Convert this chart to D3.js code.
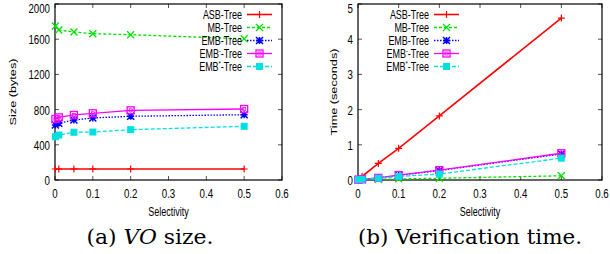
<!DOCTYPE html>
<html><head><meta charset="utf-8">
<script src="https://cdn.jsdelivr.net/npm/d3@7"></script>
<style>
body{margin:0;background:#fff;}
svg{display:block;}
.tk{font-family:"Liberation Sans",Arial,sans-serif;fill:#000;}
.cap{font-family:"DejaVu Serif","Liberation Serif",serif;font-size:20px;fill:#000;}
</style></head>
<body>
<svg id="chart" width="610" height="254"></svg>
<script>
const selectivity = [0.001, 0.01, 0.05, 0.1, 0.2, 0.5];
const seriesNames = ["ASB-Tree", "MB-Tree", "EMB-Tree", "EMB-Tree", "EMB-Tree"];
const seriesSup = ["", "", "", "-", "*"];
// (a) VO size (bytes)
const sizeASB   = [125, 125, 125, 125, 125, 125];
const sizeMB    = [1750, 1705, 1682, 1662, 1651, 1605];
const sizeEMB   = [625, 644, 682, 705, 724, 742];
const sizeEMBm  = [693, 712, 739, 758, 792, 807];
const sizeEMBs  = [492, 511, 542, 545, 572, 610];
// (b) Verification time (seconds)
const timeASB   = [0.04, 0.1, 0.47, 0.9, 1.82, 4.6];
const timeMB    = [0.01, 0.01, 0.02, 0.03, 0.05, 0.12];
const timeEMB   = [0.01, 0.02, 0.06, 0.13, 0.27, 0.74];
const timeEMBm  = [0.01, 0.02, 0.06, 0.14, 0.28, 0.76];
const timeEMBs  = [0.01, 0.02, 0.05, 0.10, 0.17, 0.62];
const xTicks = [0, 0.1, 0.2, 0.3, 0.4, 0.5, 0.6];
const sizeTicks = [0, 400, 800, 1200, 1600, 2000];
const timeTicks = [0, 1, 2, 3, 4, 5];

const colors = ["#ff0000", "#00e000", "#0000ff", "#ff00ff", "#00e0e0"];
const dashes = [null, "3,2", "1.5,1.5", null, "4,2"];
const markers = ["plus", "cross", "star", "sqopen", "sqfill"];
const SX = 0.72;

const svg = d3.select("#chart");

function txt(g, x, y, str, anchor, size, rot) {
  const tr = rot ? `translate(${x},${y}) rotate(-90) scale(1,${SX})` : `translate(${x},${y}) scale(${SX},1)`;
  return g.append("text").attr("class", "tk").attr("transform", tr)
    .attr("text-anchor", anchor).attr("font-size", size + "px").text(str);
}

function drawMarker(g, type, x, y, color) {
  const s = 3.5;
  if (type === "plus") {
    g.append("path").attr("d", `M${x-s},${y}H${x+s}M${x},${y-s}V${y+s}`).attr("stroke", color).attr("stroke-width", 1.2).attr("fill", "none");
  } else if (type === "cross") {
    g.append("path").attr("d", `M${x-s},${y-s}L${x+s},${y+s}M${x-s},${y+s}L${x+s},${y-s}`).attr("stroke", color).attr("stroke-width", 1.2).attr("fill", "none");
  } else if (type === "star") {
    g.append("path").attr("d", `M${x-s},${y}H${x+s}M${x},${y-s}V${y+s}M${x-s},${y-s}L${x+s},${y+s}M${x-s},${y+s}L${x+s},${y-s}`).attr("stroke", color).attr("stroke-width", 1.5).attr("fill", "none");
  } else if (type === "sqopen") {
    g.append("rect").attr("x", x-s).attr("y", y-s).attr("width", 2*s).attr("height", 2*s).attr("stroke", color).attr("stroke-width", 1.3).attr("fill", "none");
    g.append("rect").attr("x", x-1.5).attr("y", y-1.5).attr("width", 3).attr("height", 3).attr("stroke", color).attr("stroke-width", 0.8).attr("fill", "none");
  } else {
    g.append("rect").attr("x", x-s).attr("y", y-s).attr("width", 2*s).attr("height", 2*s).attr("fill", color);
  }
}

function panel(opt) {
  const x = d3.scaleLinear().domain([0, 0.6]).range([opt.left, opt.right]);
  const y = d3.scaleLinear().domain([0, opt.ymax]).range([180, 4]);
  const g = svg.append("g");
  const tl = 4;
  xTicks.forEach(t => {
    g.append("line").attr("x1", x(t)).attr("x2", x(t)).attr("y1", 180).attr("y2", 180 - tl).attr("stroke", "#555");
    g.append("line").attr("x1", x(t)).attr("x2", x(t)).attr("y1", 4).attr("y2", 4 + tl).attr("stroke", "#555");
    txt(g, x(t), 197.5, t === 0 ? "0" : d3.format(".1f")(t), "middle", 13.5);
  });
  opt.yTicks.forEach(t => {
    g.append("line").attr("x1", opt.left).attr("x2", opt.left + tl).attr("y1", y(t)).attr("y2", y(t)).attr("stroke", "#555");
    g.append("line").attr("x1", opt.right).attr("x2", opt.right - tl).attr("y1", y(t)).attr("y2", y(t)).attr("stroke", "#555");
    txt(g, opt.left - 5, Math.max(y(t) + 5, 13), String(t), "end", 13.5);
  });
  g.append("rect").attr("x", opt.left).attr("y", 4).attr("width", opt.right - opt.left).attr("height", 176)
    .attr("fill", "none").attr("stroke", "#000").attr("stroke-width", 1.2);
  txt(g, (opt.left + opt.right) / 2, 215.5, "Selectivity", "middle", 12.5);
  txt(g, opt.ylabX, 92, opt.ylabel, "middle", 12.7, true);
  const line = d3.line().x((d, i) => x(selectivity[i])).y(d => y(d));
  opt.series.forEach((vals, k) => {
    g.append("path").datum(vals).attr("d", line).attr("fill", "none").attr("stroke", colors[k])
      .attr("stroke-width", k === 0 ? 1.6 : 1.3).attr("stroke-dasharray", dashes[k]);
    vals.forEach((v, i) => drawMarker(g, markers[k], x(selectivity[i]), y(v), colors[k]));
  });
  seriesNames.forEach((n, k) => {
    const ly = 14.5 + k * 13;
    const t = txt(g, opt.legX, ly + 4.5, "", "end", 12.5);
    t.append("tspan").text(n.replace("-Tree", ""));
    if (seriesSup[k]) t.append("tspan").attr("dy", -5).attr("font-size", "8px").text(seriesSup[k]);
    t.append("tspan").attr("dy", seriesSup[k] ? 5 : 0).text("-Tree");
    g.append("line").attr("x1", opt.legX + 5).attr("x2", opt.legX + 30).attr("y1", ly).attr("y2", ly)
      .attr("stroke", colors[k]).attr("stroke-width", k === 0 ? 1.6 : 1.3).attr("stroke-dasharray", dashes[k]);
    drawMarker(g, markers[k], opt.legX + 17.5, ly, colors[k]);
  });
  const cap = g.append("text").attr("class", "cap").attr("x", opt.capX).attr("y", 244)
    .attr("text-anchor", "middle").attr("textLength", opt.capW).attr("lengthAdjust", "spacingAndGlyphs");
  opt.caption(cap);
}

panel({left: 55, right: 282, ymax: 2000, yTicks: sizeTicks, ylabel: "Size (bytes)", ylabX: 16,
  series: [sizeASB, sizeMB, sizeEMB, sizeEMBm, sizeEMBs], legX: 242, capX: 150, capW: 127,
  caption: c => { c.append("tspan").text("(a) "); c.append("tspan").attr("font-style", "italic").text("VO"); c.append("tspan").text(" size."); }
});
panel({left: 358, right: 602, ymax: 5, yTicks: timeTicks, ylabel: "Time (seconds)", ylabX: 337,
  series: [timeASB, timeMB, timeEMB, timeEMBm, timeEMBs], legX: 429, capX: 470, capW: 224,
  caption: c => { c.text("(b) Verification time."); }
});
</script>
</body></html>
